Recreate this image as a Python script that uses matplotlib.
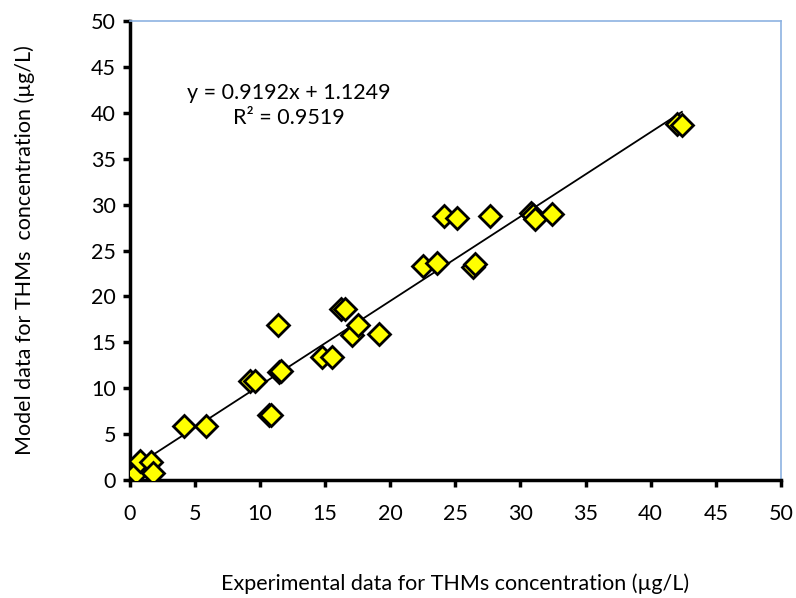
import matplotlib
matplotlib.use("Agg")
import matplotlib.pyplot as plt
import numpy as np

plt.rcParams['font.family'] = ['Lato', 'DejaVu Sans']

# Experimental vs model THM concentrations (µg/L)
experimental = [0.5, 0.8, 1.65, 1.8, 4.15, 5.85, 9.25, 9.6, 10.7, 10.85,
                11.35, 11.45, 11.6, 14.8, 15.55, 16.2, 16.5, 17.1, 17.55, 19.15,
                22.5, 23.6, 26.35, 26.5, 24.1, 25.1, 27.7, 30.8, 31.0, 31.1,
                32.4, 42.0, 42.4]
model = [0.8, 2.05, 2.0, 0.8, 5.95, 5.95, 10.75, 10.8, 7.1, 7.1,
         16.95, 11.8, 11.9, 13.4, 13.4, 18.6, 18.6, 15.85, 16.95, 15.9,
         23.3, 23.6, 23.2, 23.5, 28.8, 28.5, 28.8, 29.05, 28.85, 28.4,
         29.0, 38.8, 38.7]

# Linear trendline coefficients
slope = 0.9192
intercept = 1.1249
r_squared = 0.9519

ticks = [0, 5, 10, 15, 20, 25, 30, 35, 40, 45, 50]

fig = plt.figure(figsize=(7.96, 5.98), dpi=100)
ax = fig.add_axes([0.163, 0.197, 0.818, 0.768])

xs = np.array([min(experimental), max(experimental)])
ax.plot(xs, slope * xs + intercept, color='black', lw=1.3, zorder=2)
ax.plot(experimental, model, linestyle='none', marker='D', markersize=11,
        markerfacecolor='#FFFF00', markeredgecolor='black', markeredgewidth=2,
        zorder=3)

ax.set_xlim(0, 50)
ax.set_ylim(0, 50)
ax.set_xticks(ticks)
ax.set_yticks(ticks)

for side in ('left', 'bottom'):
    ax.spines[side].set_linewidth(2.5)
    ax.spines[side].set_color('black')
for side in ('top', 'right'):
    ax.spines[side].set_linewidth(1.2)
    ax.spines[side].set_color('#8DB3E2')

ax.tick_params(axis='both', direction='out', length=5, width=2.5,
               labelsize=15.5, colors='black')
ax.tick_params(axis='x', pad=12)
ax.tick_params(axis='y', pad=5)

ax.set_xlabel('Experimental data for THMs concentration (µg/L)', fontsize=15.5,
              labelpad=36)
ax.set_ylabel('Model data for THMs  concentration (µg/L)', fontsize=15.5,
              labelpad=40)

ax.text(12.2, 40.8, f'y = {slope}x + {intercept}\nR² = {r_squared}',
        ha='center', va='center', fontsize=15.5, linespacing=1.3)

fig.savefig('out.png', dpi=100)
